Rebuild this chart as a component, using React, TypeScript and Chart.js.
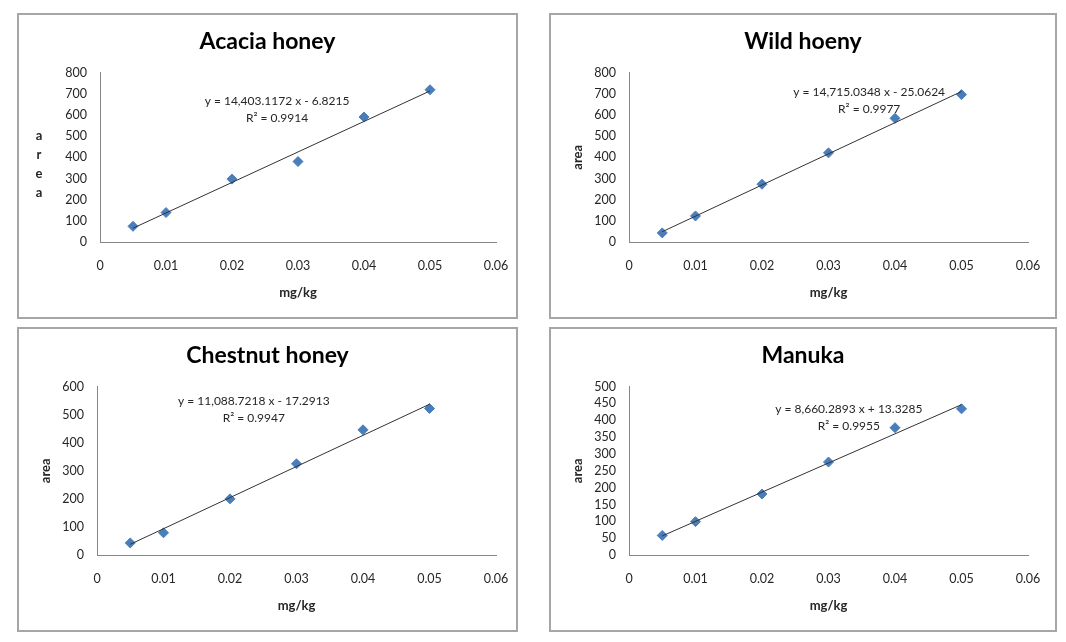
import React, { useEffect, useRef } from "react";
import { Chart, registerables } from "chart.js";

Chart.register(...registerables);

// ---- data ----
const concentrations = [0.005, 0.01, 0.02, 0.03, 0.04, 0.05];
const acaciaArea = [74, 139, 297, 380, 590, 719];
const wildArea = [43, 123, 273, 421, 584, 696];
const chestnutArea = [43, 79, 200, 325, 446, 522];
const manukaArea = [58, 99, 181, 276, 378, 434];

const xTickValues = [0, 0.01, 0.02, 0.03, 0.04, 0.05, 0.06];
const xTickLabels = ["0", "0.01", "0.02", "0.03", "0.04", "0.05", "0.06"];
const yTicks800 = [0, 100, 200, 300, 400, 500, 600, 700, 800];
const yTicks600 = [0, 100, 200, 300, 400, 500, 600];
const yTicks500 = [0, 50, 100, 150, 200, 250, 300, 350, 400, 450, 500];

const titles = ["Acacia honey", "Wild hoeny", "Chestnut honey", "Manuka"];
const slopes = [14403.1172, 14715.0348, 11088.7218, 8660.2893];
const intercepts = [-6.8215, -25.0624, -17.2913, 13.3285];
const equations = [
  "y = 14,403.1172 x - 6.8215",
  "y = 14,715.0348 x - 25.0624",
  "y = 11,088.7218 x - 17.2913",
  "y = 8,660.2893 x + 13.3285",
];
const rSquared = ["R\u00B2 = 0.9914", "R\u00B2 = 0.9977", "R\u00B2 = 0.9947", "R\u00B2 = 0.9955"];
const seriesList = [acaciaArea, wildArea, chestnutArea, manukaArea];
const yTickList = [yTicks800, yTicks800, yTicks600, yTicks500];

// ---- layout / style config ----
const panels = [
  { left: 17, top: 13, w: 501, h: 306, yW: 81, padR: 20, stacked: true, eq: [0.447, 0.166] },
  { left: 549, top: 13, w: 508, h: 306, yW: 78, padR: 27, stacked: false, eq: [0.602, 0.118] },
  { left: 17, top: 327, w: 501, h: 305, yW: 78, padR: 20, stacked: false, eq: [0.393, 0.087] },
  { left: 549, top: 327, w: 508, h: 305, yW: 78, padR: 27, stacked: false, eq: [0.551, 0.136] },
];
const BORDER = 2;
const FONT = "Lato, 'Open Sans', sans-serif";
const TEXT = "#262626";

function Panel({ idx }: { idx: number }) {
  const ref = useRef<HTMLCanvasElement | null>(null);
  const p = panels[idx];
  const cw = p.w - BORDER * 2;
  const ch = p.h - BORDER * 2;

  useEffect(() => {
    if (!ref.current) return;
    const values = seriesList[idx];
    const pts = concentrations.map((x, i) => ({ x, y: values[i] }));
    const xs = [concentrations[0], concentrations[concentrations.length - 1]];
    const trend = xs.map((x) => ({ x, y: slopes[idx] * x + intercepts[idx] }));
    const yTicks = yTickList[idx];

    const labelPlugin = {
      id: "eqLabel" + idx,
      afterDraw(chart: any) {
        const { ctx, chartArea } = chart;
        ctx.save();
        ctx.fillStyle = TEXT;
        ctx.font = `12px ${FONT}`;
        ctx.textAlign = "center";
        ctx.textBaseline = "middle";
        const cx = chartArea.left + p.eq[0] * (chartArea.right - chartArea.left);
        const cy = chartArea.top + p.eq[1] * (chartArea.bottom - chartArea.top);
        ctx.fillText(equations[idx], cx, cy);
        ctx.fillText(rSquared[idx], cx, cy + 17);
        if (p.stacked) {
          ctx.font = `bold 13px ${FONT}`;
          const letters = ["a", "r", "e", "a"];
          const mid = (chartArea.top + chartArea.bottom) / 2 + 7;
          letters.forEach((l, i) => {
            ctx.fillText(l, 20, mid + (i - 1.5) * 18.7);
          });
        }
        ctx.restore();
      },
    };

    const chart = new Chart(ref.current, {
      type: "scatter",
      data: {
        datasets: [
          {
            type: "line",
            data: trend,
            borderColor: "#333333",
            borderWidth: 1,
            pointRadius: 0,
            fill: false,
            order: 0,
          } as any,
          {
            type: "scatter",
            data: pts,
            pointStyle: "rectRot",
            pointRadius: 5,
            backgroundColor: "#4a7ebb",
            borderColor: "#4a7ebb",
            borderWidth: 1,
            order: 1,
          } as any,
        ],
      },
      options: {
        animation: false,
        responsive: false,
        maintainAspectRatio: false,
        layout: { padding: 0 },
        plugins: {
          legend: { display: false },
          tooltip: { enabled: false },
          title: {
            display: true,
            text: titles[idx],
            color: "#000",
            font: { family: FONT, size: 23, weight: "bold", lineHeight: 1.2 },
            padding: { top: 13, bottom: 17 },
          },
        },
        scales: {
          x: {
            type: "linear",
            min: 0,
            max: 0.06,
            afterBuildTicks: (s: any) => {
              s.ticks = xTickValues.map((v) => ({ value: v }));
            },
            afterFit: (s: any) => {
              s.height = 75;
              s.paddingLeft = 0;
              s.paddingRight = p.padR;
            },
            grid: { display: true, color: "rgba(0,0,0,0)", drawTicks: false },
            border: { display: true, color: "#868686", width: 1 },
            ticks: {
              color: TEXT,
              padding: 16,
              autoSkip: false,
              font: { family: FONT, size: 12.5 },
              maxRotation: 0,
              callback: (_v: any, i: number) => xTickLabels[i],
            },
            title: {
              display: true,
              text: "mg/kg",
              color: TEXT,
              font: { family: FONT, size: 13, weight: "bold", lineHeight: 1.2 },
              padding: { top: 0, bottom: 16 },
            },
          },
          y: {
            type: "linear",
            min: yTicks[0],
            max: yTicks[yTicks.length - 1],
            afterBuildTicks: (s: any) => {
              s.ticks = yTicks.map((v) => ({ value: v }));
            },
            afterFit: (s: any) => {
              s.width = p.yW;
            },
            grid: { display: true, color: "rgba(0,0,0,0)", drawTicks: false },
            border: { display: true, color: "#868686", width: 1 },
            ticks: {
              color: TEXT,
              padding: 13,
              autoSkip: false,
              font: { family: FONT, size: 12.5 },
              callback: (v: any) => String(v),
            },
            title: {
              display: !p.stacked,
              text: "area",
              color: TEXT,
              font: { family: FONT, size: 13, weight: "bold", lineHeight: 1.2 },
              padding: { top: 19, bottom: 0 },
            },
          },
        },
      },
      plugins: [labelPlugin],
    });
    return () => chart.destroy();
  }, [idx]);

  return (
    <div
      style={{
        position: "absolute",
        left: p.left,
        top: p.top,
        width: p.w,
        height: p.h,
        boxSizing: "border-box",
        border: `${BORDER}px solid #a6a6a6`,
        background: "#fff",
      }}
    >
      <canvas ref={ref} width={cw} height={ch} style={{ display: "block", width: cw, height: ch }} />
    </div>
  );
}

export default function App() {
  return (
    <div style={{ position: "absolute", left: 0, top: 0, width: 1066, height: 642, background: "#fff" }}>
      {panels.map((_, i) => (
        <Panel key={i} idx={i} />
      ))}
    </div>
  );
}
